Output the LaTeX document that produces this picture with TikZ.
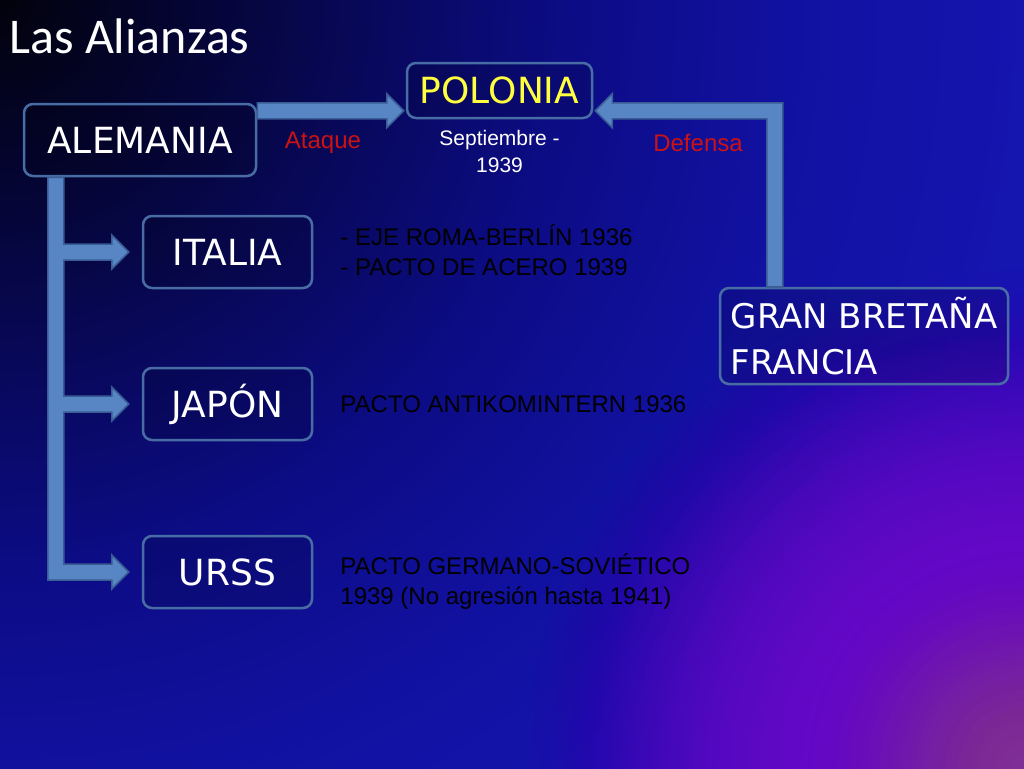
\documentclass[tikz,border=0pt]{standalone}
\usepackage{fontspec}
\setmainfont{Liberation Sans}
\newfontfamily\titlefont{Carlito}
\newfontfamily\boxfont{DejaVu Sans}
\usetikzlibrary{positioning,calc}

\definecolor{bgA}{RGB}{2,2,12}
\definecolor{bgB}{RGB}{5,5,56}
\definecolor{bgC}{RGB}{8,8,90}
\definecolor{bgD}{RGB}{12,12,134}
\definecolor{bgE}{RGB}{17,17,160}
\definecolor{bgF}{RGB}{21,21,176}
\definecolor{bgG}{RGB}{24,24,186}
\definecolor{bgPa}{RGB}{140,60,150}
\definecolor{bgPb}{RGB}{112,8,208}
\definecolor{boxline}{RGB}{72,108,164}
\definecolor{arrowfill}{RGB}{88,134,196}
\definecolor{arrowline}{RGB}{58,92,148}
\definecolor{redtxt}{RGB}{204,18,18}
\definecolor{yellowtxt}{RGB}{255,255,64}

\pgfdeclareradialshading{bgshade}{\pgfpointorigin}{color(0bp)=(bgA); color(4bp)=(bgB); color(7bp)=(bgC); color(11bp)=(bgD); color(15bp)=(bgE); color(20bp)=(bgF); color(25bp)=(bgG); color(50bp)=(bgG)}

\tikzset{box/.style={draw=boxline,line width=2.5pt,rounded corners=9pt,fill=black,fill opacity=0.12,text opacity=1,
            text=white,inner sep=0pt,minimum width=169pt,minimum height=72pt,font=\boxfont\fontsize{36}{40}\selectfont},
         note/.style={inner sep=0pt,align=left,font=\fontsize{24}{30}\selectfont},
         bararrow/.style={fill=arrowfill,draw=arrowline,line width=1.5pt,line join=miter},
            }

\begin{document}
\begin{tikzpicture}[x=1pt,y=-1pt]
    \useasboundingbox (0,0) rectangle (1024,768);
    % background
    \begin{scope}
        \clip (0,0) rectangle (1024,768);
        \shade[shading=bgshade] (0,0) circle (1300pt);
        \foreach \r in {6,12,...,498} {
            \pgfmathsetmacro\op{0.2*(1-\r/500)+0.01}
            \fill[bgPb,fill opacity=\op] (1024,768) circle (\r pt);
        }
        \foreach \r in {6,12,...,216} {
            \pgfmathsetmacro\op{0.12*(1-\r/220)+0.005}
            \fill[bgPa,fill opacity=\op] (1024,768) circle (\r pt);
        }
    \end{scope}

    \node[anchor=base west,text=white,inner sep=0pt,font=\titlefont\fontsize{50}{60}\selectfont] (title) at (9,53) {Las Alianzas};

    \node[box,minimum width=232pt] (alemania) at (140,140) {ALEMANIA};
    \node[box,minimum width=185pt,minimum height=55pt,text=yellowtxt] (polonia) at (499.5,90.5) {POLONIA};
    \node[box] (italia) at (227.5,252) {ITALIA};
    \node[box] (japon) [below=77.5pt of italia] {JAPÓN};
    \node[box] (urss) [below=93.5pt of japon] {URSS};
    \node[box,minimum width=288pt,minimum height=96pt,align=left,font=\boxfont\fontsize{34}{46}\selectfont] (gb) at (864,336) {GRAN BRETAÑA\\FRANCIA};

    \node[note] (eje) [right=27pt of italia,yshift=2pt] {- EJE ROMA-BERLÍN 1936\\- PACTO DE ACERO 1939};
    \node[note] (anti) [right=27pt of japon] {PACTO ANTIKOMINTERN 1936};
    \node[note] (germ) [right=27pt of urss,yshift=-10pt] {PACTO GERMANO-SOVIÉTICO\\1939 (No agresión hasta 1941)};
    \node[note,text=redtxt] (ataque) at (323,143) {Ataque};
    \node[note,text=redtxt] (defensa) at (698,143) {Defensa};
    \node[note,align=center,text=white,font=\fontsize{21}{27}\selectfont] (sept) [below=11pt of polonia] {Septiembre -\\1939};

    % arrows
    \coordinate (atk) at ($(alemania.north east)+(0,8)$);
    \coordinate (atip) at ($(polonia.west |- atk)+(-2,0)$);
    \coordinate (dfoot) at ($(gb.north west)+(56,0)$);
    \coordinate (dtip) at ($(polonia.east |- atk)+(2,0)$);
    \coordinate (trunk) at ($(alemania.south west)+(33,0)$);
    \coordinate (itip) at ($(italia.west)+(-13,0)$);
    \coordinate (jtip) at ($(japon.west)+(-13,0)$);
    \coordinate (utip) at ($(urss.west)+(-13,0)$);

    \draw[bararrow] let \p1=(atk), \p2=(atip) in
        (\x1,\y1+8pt) -- (\x2-17pt,\y1+8pt) -- (\x2-17pt,\y1+17pt) -- (\x2,\y1)
        -- (\x2-17pt,\y1-17pt) -- (\x2-17pt,\y1-8pt) -- (\x1,\y1-8pt) -- cycle;
    \draw[bararrow] let \p1=(dfoot), \p2=(dtip) in
        (\x1+8pt,\y1) -- (\x1+8pt,\y2+8pt) -- (\x2+17pt,\y2+8pt) -- (\x2+17pt,\y2+17pt) -- (\x2,\y2)
        -- (\x2+17pt,\y2-17pt) -- (\x2+17pt,\y2-8pt) -- (\x1-8pt,\y2-8pt) -- (\x1-8pt,\y1) -- cycle;
    \draw[bararrow] let \p1=(trunk), \p2=(itip), \p3=(jtip), \p4=(utip) in
        (\x1-8pt,\y1) -- (\x1-8pt,\y4-8pt) -- (\x4-17pt,\y4-8pt) -- (\x4-17pt,\y4-17pt) -- (\x4,\y4)
        -- (\x4-17pt,\y4+17pt) -- (\x4-17pt,\y4+8pt) -- (\x1+8pt,\y4+8pt)
        -- (\x1+8pt,\y3-8pt) -- (\x3-17pt,\y3-8pt) -- (\x3-17pt,\y3-17pt) -- (\x3,\y3)
        -- (\x3-17pt,\y3+17pt) -- (\x3-17pt,\y3+8pt) -- (\x1+8pt,\y3+8pt)
        -- (\x1+8pt,\y2-8pt) -- (\x2-17pt,\y2-8pt) -- (\x2-17pt,\y2-17pt) -- (\x2,\y2)
        -- (\x2-17pt,\y2+17pt) -- (\x2-17pt,\y2+8pt) -- (\x1+8pt,\y2+8pt) -- (\x1+8pt,\y1) -- cycle;
    %%
\end{tikzpicture}
\end{document}
